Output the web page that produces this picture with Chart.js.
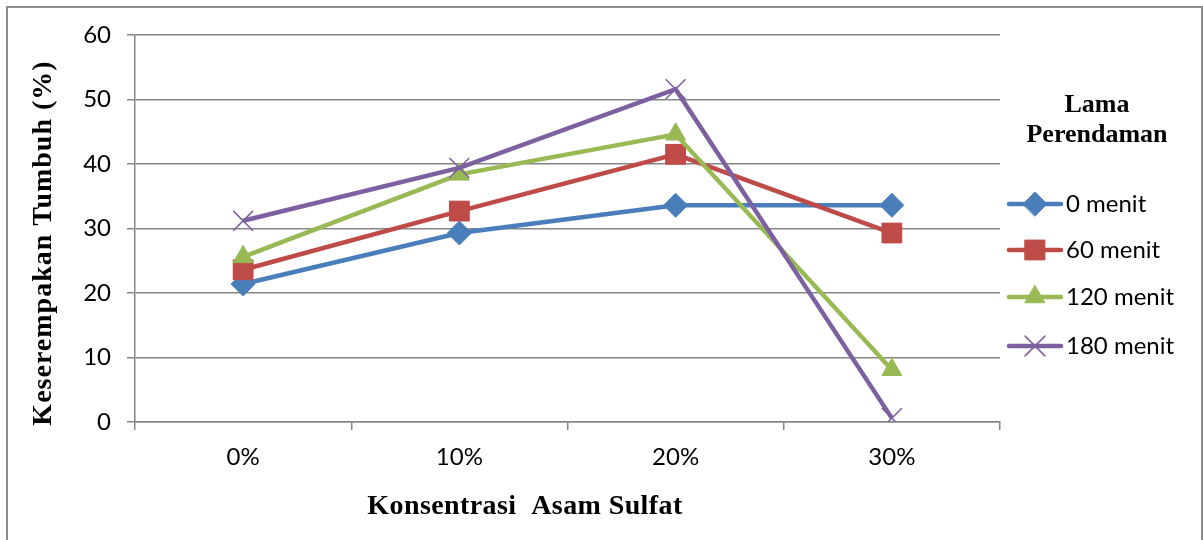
<!DOCTYPE html>
<html>
<head>
<meta charset="utf-8">
<script src="https://cdn.jsdelivr.net/npm/chart.js@4/dist/chart.umd.min.js"></script>
<style>
  html, body { margin: 0; padding: 0; background: #fff; }
  #wrap { position: relative; width: 1203px; height: 540px; }
</style>
</head>
<body>
<div id="wrap"><canvas id="myChart" width="1203" height="540"></canvas></div>
<script>
const categories = ['0%', '10%', '20%', '30%'];
const menit0 = [21.4, 29.3, 33.6, 33.6];
const menit60 = [23.6, 32.7, 41.5, 29.3];
const menit120 = [25.6, 38.4, 44.6, 8.1];
const menit180 = [31.2, 39.4, 51.6, 0.6];
const seriesNames = ['0 menit', '60 menit', '120 menit', '180 menit'];
const yTicks = [0, 10, 20, 30, 40, 50, 60];

const colors = ['#4a7ebb', '#be4b48', '#98b954', '#7d60a0'];
const styles = [
  { pointStyle: 'rectRot', radius: 12, bw: 1 },
  { pointStyle: 'rect', radius: 14, bw: 1 },
  { pointStyle: 'triangle', radius: 11.5, bw: 1 },
  { pointStyle: 'crossRot', radius: 14, bw: 1.5 }
];
const tickFont = { family: 'Lato, "Open Sans", sans-serif', size: 24 };
const serif = '"Liberation Serif", "DejaVu Serif", serif';

const datasets = [menit0, menit60, menit120, menit180].map((d, i) => ({
  label: seriesNames[i],
  data: d,
  borderColor: colors[i],
  backgroundColor: colors[i],
  borderWidth: 4.5,
  pointStyle: styles[i].pointStyle,
  pointRadius: styles[i].radius,
  pointBorderWidth: styles[i].bw,
  pointBorderColor: colors[i],
  pointBackgroundColor: colors[i],
  tension: 0,
  order: 3 - i
}));

// frame, axis titles and the legend
const decor = {
  id: 'decor',
  afterDraw(chart) {
    const c = chart.ctx;
    c.save();
    c.strokeStyle = '#8c8c8c';
    c.lineWidth = 2;
    c.beginPath();
    c.moveTo(7, 540); c.lineTo(7, 7); c.lineTo(1202, 7); c.lineTo(1202, 540);
    c.stroke();

    c.fillStyle = '#000';
    c.textAlign = 'center';
    c.textBaseline = 'alphabetic';
    c.font = 'bold 28px ' + serif;
    c.letterSpacing = '0.4px';
    c.fillText('Konsentrasi  Asam Sulfat', 525, 514);

    c.save();
    c.letterSpacing = '1px';
    c.translate(51, 243);
    c.rotate(-Math.PI / 2);
    c.fillText('Keserempakan Tumbuh (%)', 0, 0);
    c.restore();

    c.letterSpacing = '0px';
    c.font = 'bold 26px ' + serif;
    c.fillText('Lama', 1097, 112);
    c.fillText('Perendaman', 1097, 142);

    const rows = [204, 250, 297, 346];
    chart.data.datasets.forEach((ds, i) => {
      const y = rows[i];
      c.save();
      c.strokeStyle = ds.borderColor;
      c.lineWidth = 4.5;
      c.lineCap = 'round';
      c.beginPath();
      c.moveTo(1009, y); c.lineTo(1061, y);
      c.stroke();
      c.fillStyle = ds.backgroundColor;
      c.lineWidth = ds.pointBorderWidth;
      Chart.helpers.drawPoint(c, {
        pointStyle: ds.pointStyle,
        radius: ds.pointRadius,
        borderWidth: ds.pointBorderWidth
      }, 1035, y);
      c.fillStyle = '#000';
      c.font = tickFont.size + 'px ' + tickFont.family;
      c.textAlign = 'left';
      c.textBaseline = 'middle';
      c.fillText(ds.label, 1066, y);
      c.restore();
    });
    c.restore();
  }
};

const ctx = document.getElementById('myChart').getContext('2d');
const myChart = new Chart(ctx, {
  type: 'line',
  data: { labels: categories, datasets: datasets },
  options: {
    responsive: false,
    animation: false,
    layout: { padding: { left: 0, right: 203, top: 35, bottom: 0 } },
    plugins: { legend: { display: false }, tooltip: { enabled: false } },
    scales: {
      x: {
        offset: true,
        afterFit: s => { s.height = 118; },
        grid: { offset: true, drawOnChartArea: false, tickLength: 8, color: '#868686', lineWidth: 1.5 },
        border: { color: '#868686', width: 1.5 },
        ticks: { font: tickFont, color: '#000', padding: 13 }
      },
      y: {
        min: 0,
        max: 60,
        afterFit: s => { s.width = 135; },
        afterBuildTicks: s => { s.ticks = yTicks.map(v => ({ value: v })); },
        grid: { color: '#868686', lineWidth: 1.5, tickLength: 8 },
        border: { color: '#868686', width: 1.5 },
        ticks: { font: tickFont, color: '#000', padding: 16 }
      }
    }
  },
  plugins: [decor]
});
</script>
</body>
</html>
